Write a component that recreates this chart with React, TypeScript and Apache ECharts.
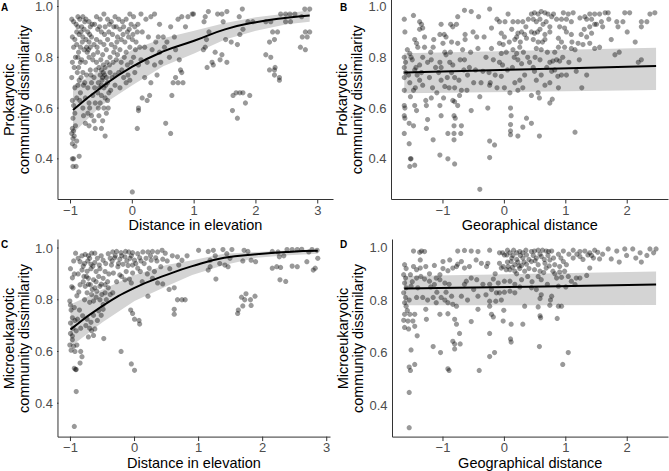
import { useEffect, useRef } from "react";
import * as echarts from "echarts";

// ---------- tick values ----------
const elevTicks = [-1, 0, 1, 2, 3];
const geoTicks = [-1, 0, 1, 2];
const dissimTicks = [0.4, 0.6, 0.8, 1.0];

// ---------- Panel A: prokaryotic vs elevation ----------
const pointsA: number[][] = [
  [-0.98,0.95],[-0.95,0.94],[-0.97,0.88],[-0.93,0.87],[-0.95,0.84],[-0.92,0.8],[-0.97,0.78],[-0.94,0.76],[-0.98,0.72],[-0.93,0.68],
  [-0.97,0.63],[-0.95,0.61],[-0.96,0.56],[-0.97,0.52],[-0.95,0.51],[-0.98,0.5],[-0.94,0.49],[-0.96,0.48],[-0.97,0.46],[-0.93,0.45],
  [-0.97,0.4],[-0.95,0.4],[-0.96,0.37],[-0.91,0.37],[-0.86,0.41],[-0.9,0.47],[-0.92,0.53],
  [-0.88,0.96],[-0.85,0.95],[-0.8,0.96],[-0.75,0.95],[-0.7,0.94],[-0.65,0.93],[-0.88,0.92],[-0.82,0.92],[-0.78,0.91],[-0.72,0.9],
  [-0.68,0.92],[-0.86,0.89],[-0.8,0.88],[-0.75,0.87],[-0.7,0.86],[-0.66,0.88],[-0.9,0.85],[-0.84,0.84],[-0.78,0.83],[-0.73,0.82],
  [-0.68,0.84],[-0.62,0.85],[-0.88,0.8],[-0.82,0.79],[-0.76,0.78],[-0.7,0.8],[-0.64,0.79],[-0.87,0.76],[-0.8,0.74],[-0.74,0.73],
  [-0.68,0.75],[-0.62,0.72],[-0.86,0.71],[-0.79,0.69],[-0.72,0.68],[-0.66,0.7],[-0.84,0.66],[-0.76,0.64],[-0.7,0.62],[-0.64,0.65],
  [-0.8,0.6],[-0.72,0.58],[-0.66,0.57],[-0.76,0.54],[-0.62,0.55],[-0.7,0.53],
  [-0.58,0.96],[-0.52,0.95],[-0.46,0.97],[-0.4,0.95],[-0.34,0.94],[-0.56,0.91],[-0.5,0.9],[-0.44,0.92],[-0.38,0.9],[-0.32,0.89],
  [-0.58,0.87],[-0.52,0.86],[-0.46,0.85],[-0.4,0.87],[-0.34,0.85],[-0.56,0.82],[-0.48,0.81],[-0.42,0.83],[-0.36,0.8],[-0.3,0.82],
  [-0.58,0.78],[-0.54,0.76],[-0.5,0.75],[-0.47,0.74],[-0.44,0.76],[-0.52,0.73],[-0.48,0.72],[-0.45,0.73],[-0.42,0.72],[-0.55,0.7],
  [-0.5,0.69],[-0.46,0.68],[-0.4,0.7],[-0.36,0.74],[-0.56,0.66],[-0.5,0.65],[-0.44,0.64],[-0.38,0.66],[-0.52,0.62],[-0.46,0.6],
  [-0.4,0.63],[-0.54,0.57],[-0.48,0.55],[-0.42,0.58],[-0.5,0.52],[-0.44,0.49],
  [-0.28,0.96],[-0.22,0.95],[-0.16,0.94],[-0.1,0.95],[-0.04,0.97],[0.02,0.96],[-0.26,0.92],[-0.2,0.91],[-0.14,0.92],[-0.08,0.9],
  [-0.02,0.93],[0.04,0.92],[0.08,0.9],[-0.24,0.88],[-0.18,0.87],[-0.12,0.86],[-0.06,0.88],[0.0,0.87],[0.06,0.86],[-0.28,0.84],
  [-0.2,0.83],[-0.1,0.82],[-0.04,0.84],[-0.26,0.79],[-0.18,0.78],[-0.08,0.77],[0.02,0.8],[-0.22,0.74],[-0.14,0.72],[-0.04,0.71],
  [0.04,0.74],[-0.28,0.69],[-0.2,0.68],[-0.1,0.7],[0.0,0.27],[0.1,0.6],[0.1,0.59],[0.08,0.52],[0.16,0.64],[0.24,0.63],[0.28,0.65],
  [0.14,0.97],[0.22,0.95],[0.3,0.96],[0.36,0.97],[0.44,0.93],[0.16,0.9],[0.26,0.88],[0.38,0.86],[0.5,0.88],[0.2,0.84],
  [0.32,0.83],[0.44,0.82],[0.56,0.86],[0.14,0.79],[0.24,0.78],[0.36,0.77],[0.46,0.78],[0.6,0.8],[0.7,0.83],[0.54,0.54],
  [0.62,0.5],[0.64,0.65],[0.66,0.7],[0.7,0.72],[0.74,0.7],[0.78,0.75],[0.8,0.74],[0.82,0.7],[0.86,0.92],[0.9,0.96],[0.97,0.97],
  [0.74,0.95],[0.8,0.96],
  [0.99,0.97],[1.18,0.96],[1.23,0.98],[1.16,0.94],[1.38,0.97],[1.45,0.97],[1.53,0.98],[1.73,0.96],[1.78,0.99],[1.47,0.94],
  [1.24,0.9],[1.2,0.87],[1.18,0.84],[1.15,0.83],[1.34,0.82],[1.45,0.81],[1.42,0.79],[1.53,0.78],[1.29,0.78],[1.21,0.76],
  [1.31,0.77],[1.51,0.87],[1.6,0.86],[1.7,0.85],[1.74,0.89],[1.79,0.91],[1.87,0.94],[1.95,0.94],[2.16,0.94],[2.24,0.94],
  [2.27,0.9],[2.35,0.9],[2.22,0.86],[2.3,0.87],[2.16,0.81],[2.24,0.8],[2.22,0.75],[2.3,0.75],[2.31,0.76],[2.3,0.73],
  [2.38,0.72],[2.38,0.71],[2.4,0.97],[2.48,0.97],[2.55,0.97],[2.63,0.97],[2.48,0.94],[2.56,0.94],[2.79,0.99],[2.87,0.99],
  [2.74,0.96],[2.8,0.9],[2.87,0.9],[2.75,0.88],[2.83,0.88],[2.72,0.84],[2.8,0.83],[1.63,0.65],[1.68,0.66],[1.74,0.66],
  [1.79,0.66],[1.9,0.65],[1.83,0.62],[1.62,0.59],[1.7,0.56],
  [-0.91,0.93],[-0.83,0.9],[-0.77,0.94],[-0.69,0.89],[-0.61,0.93],[-0.87,0.82],[-0.81,0.86],[-0.71,0.83],[-0.63,0.81],[-0.59,0.75],
  [-0.89,0.74],[-0.83,0.72],[-0.77,0.7],[-0.67,0.73],[-0.61,0.68],[-0.85,0.63],[-0.79,0.57],[-0.69,0.6],[-0.6,0.62],[-0.53,0.68],
  [-0.49,0.71],[-0.43,0.69],[-0.47,0.77],[-0.51,0.79],[-0.41,0.78],[-0.37,0.77],[-0.33,0.72],[-0.31,0.78],[-0.37,0.93],[-0.45,0.89],
  [-0.53,0.92],[-0.3,0.92],[-0.25,0.86],[-0.15,0.89],[-0.05,0.91],[0.01,0.89],[-0.13,0.8],[-0.02,0.78],[0.05,0.83],[-0.17,0.75],
  [-0.07,0.73],[0.1,0.77],[0.12,0.84],[0.09,0.93],[-0.93,0.58],[-0.9,0.64],[-0.88,0.69],[-0.84,0.78],[-0.9,0.9],[-0.74,0.84],
  [-0.57,0.84],[-0.55,0.6],[-0.6,0.52],[-0.39,0.6],[-0.35,0.67],[-0.28,0.73],[-0.24,0.81],[0.2,0.72],[0.3,0.7],[0.4,0.73],
  [0.42,0.88],[0.52,0.84],[0.62,0.92],[0.68,0.88],[0.76,0.79]
];
const fitXA = [-0.96, -0.5, 0, 0.5, 1, 1.5, 2, 2.5, 2.87];
const fitYA = [0.592, 0.682, 0.763, 0.823, 0.865, 0.91, 0.938, 0.956, 0.965];
const bandLoA = [0.5, 0.61, 0.69, 0.765, 0.815, 0.87, 0.905, 0.93, 0.94];
const bandHiA = [0.69, 0.75, 0.83, 0.875, 0.905, 0.935, 0.958, 0.972, 0.985];

// ---------- Panel B: prokaryotic vs geographical distance ----------
const pointsB: number[][] = [
  [-1.63,0.95],[-1.62,0.9],[-1.48,0.965],[-1.63,0.8],[-1.61,0.78],[-1.63,0.76],[-1.61,0.74],[-1.63,0.72],[-1.54,0.7],[-1.63,0.67],
  [-1.48,0.67],[-1.45,0.68],[-1.53,0.645],[-1.63,0.61],[-1.62,0.6],[-1.63,0.57],[-1.62,0.56],[-1.46,0.61],[-1.43,0.59],[-1.55,0.54],
  [-1.48,0.53],[-1.63,0.5],[-1.55,0.46],[-1.53,0.4],[-1.52,0.4],[-1.54,0.37],[-1.46,0.375],
  [-1.38,0.94],[-1.35,0.93],[-1.33,0.915],[-1.38,0.91],[-1.3,0.88],[-1.46,0.87],[-1.43,0.855],[-1.41,0.84],[-1.3,0.84],[-1.54,0.815],
  [-1.52,0.8],[-1.33,0.8],[-1.38,0.77],[-1.46,0.75],[-1.42,0.73],[-1.38,0.71],[-1.33,0.69],[-1.28,0.63],[-1.27,0.61],[-1.25,0.555],
  [-1.27,0.52],[-1.16,0.475],[-1.19,0.64],[-1.17,0.68],[-1.22,0.72],[-1.19,0.79],[-1.15,0.87],[-1.16,0.84],
  [-1.03,0.93],[-1.05,0.89],[-1.0,0.855],[-0.97,0.82],[-1.05,0.78],[-1.03,0.76],[-1.07,0.74],[-1.03,0.71],[-0.97,0.685],[-1.05,0.61],
  [-1.03,0.57],[-1.05,0.415],[-0.92,0.4],[-0.81,0.38],[-0.92,0.5],[-0.82,0.53],[-0.82,0.5],[-0.71,0.5],[-0.7,0.53],[-0.82,0.57],
  [-0.8,0.56],[-0.82,0.475],[-0.875,0.93],[-0.84,0.92],[-0.78,0.93],[-0.98,0.89],[-0.95,0.88],[-0.86,0.86],[-0.76,0.855],[-0.95,0.81],
  [-0.89,0.78],[-0.84,0.77],[-0.86,0.74],[-0.81,0.72],[-0.9,0.68],[-0.81,0.68],[-0.84,0.63],[-0.81,0.625],[-0.73,0.65],[-0.76,0.61],
  [-0.7,0.67],[-0.64,0.87],[-0.64,0.89],[-0.65,0.79],[-0.76,0.96],[-0.65,0.985],[-0.54,0.98],[-0.74,0.71],[-0.66,0.75],[-0.54,0.59],
  [-0.51,0.9],[-0.45,0.88],[-0.42,0.96],[-0.57,0.76],[-0.47,0.75],[-0.61,0.67],
  [-0.4,0.28],[-0.24,0.99],[-0.21,0.915],[-0.21,0.835],[-0.25,0.74],[-0.23,0.7],[-0.24,0.69],[-0.27,0.6],[-0.24,0.47],[-0.16,0.455],
  [-0.24,0.405],[-0.4,0.645],[-0.35,0.745],[-0.43,0.835],[-0.18,0.79],[-0.08,0.94],[0.01,0.94],[-0.05,0.895],[0.0,0.88],[-0.08,0.855],
  [-0.02,0.85],[-0.05,0.815],[0.03,0.82],[-0.08,0.78],[-0.05,0.725],[0.0,0.68],[0.09,0.66],[0.1,0.6],[0.11,0.57],[0.1,0.535],
  [0.1,0.51],[0.1,0.495],[0.22,0.94],[0.14,0.94],[0.17,0.87],[0.2,0.88],[0.22,0.895],[0.14,0.83],[0.2,0.815],[0.25,0.84],
  [0.28,0.9],[0.33,0.89],[0.36,0.875],[0.3,0.94],[0.39,0.95],[0.22,0.79],[0.28,0.775],[0.25,0.71],[0.17,0.7],[0.22,0.67],
  [0.3,0.68],[0.33,0.73],[0.36,0.56],[0.3,0.525],[0.22,0.49],
  [0.44,0.97],[0.49,0.975],[0.55,0.97],[0.6,0.98],[0.66,0.975],[0.71,0.97],[0.77,0.96],[0.47,0.95],[0.52,0.94],[0.58,0.95],
  [0.63,0.93],[0.68,0.94],[0.74,0.92],[0.44,0.9],[0.49,0.895],[0.58,0.91],[0.66,0.89],[0.74,0.9],[0.47,0.87],[0.55,0.86],
  [0.66,0.87],[0.52,0.835],[0.6,0.83],[0.96,0.975],[1.04,0.97],[1.12,0.975],[0.93,0.95],[1.01,0.95],[1.09,0.94],[0.9,0.92],
  [0.98,0.915],[1.01,0.9],[1.09,0.89],[0.88,0.875],[0.93,0.86],[0.98,0.84],[0.88,0.84],[1.23,0.955],[1.31,0.96],[1.39,0.97],
  [1.47,0.97],[1.55,0.97],[1.64,0.975],[1.69,0.975],[1.34,0.95],[1.42,0.95],[1.5,0.93],[1.58,0.94],[1.39,0.92],[1.47,0.93],
  [1.25,0.89],[1.34,0.88],[1.42,0.895],[1.2,0.855],[1.28,0.85],[1.39,0.855],[1.47,0.835],[1.55,0.84],[1.09,0.835],[1.15,0.83],
  [1.83,0.94],[1.85,0.92],[1.74,0.87],[1.96,0.975],[2.04,0.975],[1.93,0.94],[2.13,0.86],[2.23,0.94],[2.32,0.94],[2.23,0.92],
  [2.37,0.97],[2.45,0.975],[1.8,0.81],[1.87,0.82],[2.18,0.78],[2.23,0.79],
  [0.41,0.78],[0.47,0.76],[0.58,0.79],[0.49,0.745],[0.52,0.71],[0.6,0.73],[0.66,0.69],[0.74,0.78],[0.79,0.785],[0.85,0.79],
  [0.9,0.785],[0.77,0.745],[0.82,0.75],[0.87,0.725],[0.93,0.73],[1.01,0.73],[0.74,0.7],[0.88,0.68],[1.17,0.745],[1.26,0.68],
  [1.34,0.73],[0.44,0.65],[0.55,0.66],[0.57,0.64],[0.74,0.62],[0.78,0.635],[0.44,0.54],[0.57,0.49],[1.15,0.505],
  [-1.58,0.83],[-1.5,0.79],[-1.56,0.73],[-1.44,0.76],[-1.35,0.74],[-1.25,0.78],[-1.2,0.82],[-1.12,0.76],[-1.1,0.66],[-0.99,0.64],
  [-0.93,0.72],[-0.88,0.82],[-0.72,0.79],[-0.68,0.83],[-0.6,0.73],[-0.55,0.82],[-0.5,0.7],[-0.38,0.7],[-0.33,0.88],[-0.3,0.8],
  [-0.15,0.73],[-0.12,0.68],[-0.03,0.77],[0.05,0.75],[0.08,0.86],[0.12,0.91],[0.16,0.8],[0.26,0.86],[0.31,0.82],[0.35,0.92],
  [0.38,0.8],[0.13,0.76],[0.06,0.97],[-0.12,0.95],[0.54,0.9],[0.62,0.86],[0.7,0.82],[0.82,0.82],[0.95,0.8],[1.05,0.78],
  [1.1,0.86],[1.3,0.91],[1.6,0.92],[1.7,0.95],[2.0,0.9],[0.8,0.97],[0.85,0.95],[0.5,0.8],[0.69,0.76],[1.22,0.79]
];
const fitXB = [-1.63, 0.42, 2.47];
const fitYB = [0.74, 0.753, 0.766];
const bandLoB = [0.658, 0.664, 0.671];
const bandHiB = [0.816, 0.827, 0.838];

// ---------- Panel C: microeukaryotic vs elevation ----------
const pointsC: number[][] = [
  [-1.01,0.795],[-1.0,0.78],[-0.99,0.76],[-0.97,0.73],[-1.0,0.71],[-0.96,0.69],[-1.0,0.67],[-0.97,0.645],[-1.01,0.625],[-0.99,0.605],
  [-0.95,0.62],[-0.9,0.625],[-0.94,0.535],[-0.91,0.53],[-0.92,0.53],[-0.91,0.445],[-0.94,0.31],[-0.84,0.6],[-0.82,0.58],[-0.85,0.555],
  [-0.97,0.885],[-1.0,0.92],[-0.95,0.95],[-0.92,0.98],[-0.96,0.845],[-0.9,0.815],[-0.94,0.77],[-0.89,0.725],[-0.91,0.68],
  [-0.82,0.97],[-0.77,0.975],[-0.72,0.97],[-0.67,0.98],[-0.62,0.98],[-0.85,0.947],[-0.78,0.94],[-0.73,0.95],[-0.68,0.937],[-0.62,0.944],
  [-0.55,0.934],[-0.49,0.953],[-0.82,0.915],[-0.74,0.91],[-0.68,0.92],[-0.6,0.909],[-0.54,0.92],[-0.46,0.909],[-0.79,0.89],[-0.72,0.883],
  [-0.64,0.877],[-0.56,0.89],[-0.49,0.883],[-0.85,0.858],[-0.77,0.852],[-0.69,0.858],[-0.62,0.846],[-0.54,0.852],[-0.46,0.858],[-0.74,0.827],
  [-0.67,0.82],[-0.59,0.833],[-0.51,0.82],[-0.46,0.827],[-0.64,0.795],[-0.54,0.8],[-0.49,0.782],[-0.56,0.757],[-0.49,0.763],[-0.81,0.738],
  [-0.74,0.725],[-0.68,0.713],[-0.7,0.69],[-0.67,0.68],[-0.62,0.687],[-0.72,0.656],[-0.64,0.662],[-0.48,0.65],
  [-0.41,0.978],[-0.34,0.985],[-0.28,0.987],[-0.21,0.982],[-0.14,0.987],[-0.09,0.985],[-0.03,0.982],[0.05,0.978],[0.13,0.985],[-0.38,0.96],
  [-0.31,0.962],[-0.23,0.957],[-0.15,0.966],[-0.07,0.96],[0.0,0.953],[0.08,0.962],[-0.36,0.934],[-0.26,0.928],[-0.18,0.937],[-0.1,0.932],
  [-0.03,0.934],[0.05,0.922],[-0.33,0.903],[-0.23,0.896],[-0.13,0.909],[-0.03,0.903],[0.09,0.909],[-0.28,0.87],[-0.15,0.877],[-0.05,0.865],
  [-0.41,0.846],[-0.34,0.827],[-0.06,0.76],[-0.03,0.747],[0.0,0.725],[0.07,0.72],[0.08,0.706],[-0.21,0.6],[-0.05,0.552],[0.0,0.527],
  [0.21,0.985],[0.28,0.987],[0.36,0.985],[0.43,0.991],[0.18,0.96],[0.26,0.953],[0.33,0.962],[0.44,0.957],[0.51,0.95],[0.23,0.922],
  [0.31,0.909],[0.41,0.928],[0.28,0.883],[0.36,0.865],[0.44,0.861],[0.21,0.814],[0.54,0.84],[0.62,0.846],[0.59,0.97],[0.67,0.966],
  [0.74,0.953],[0.82,0.97],[0.69,0.934],[0.67,0.8],[0.74,0.8],[0.79,0.8],[0.62,0.763],[0.62,0.744],
  [1.0,0.991],[1.15,0.987],[1.23,0.991],[1.38,0.994],[1.52,0.994],[1.71,0.991],[1.77,0.987],[1.18,0.953],[1.26,0.97],[1.44,0.978],
  [1.49,0.96],[1.18,0.928],[1.15,0.915],[1.33,0.94],[1.41,0.934],[1.46,0.928],[1.69,0.95],[1.82,0.953],[1.89,0.947],[1.27,0.88],
  [2.15,0.987],[2.24,0.985],[2.38,0.994],[2.46,0.994],[2.54,0.994],[2.61,0.995],[2.26,0.966],[2.33,0.97],[2.15,0.922],[2.22,0.928],
  [2.28,0.925],[2.46,0.93],[2.54,0.928],[2.27,0.877],[2.36,0.871],[2.69,0.947],[2.77,0.994],[2.85,0.991],[2.79,0.915],[2.82,0.922],
  [2.86,0.96],[2.72,0.985],[1.67,0.81],[1.74,0.823],[1.88,0.814],[1.72,0.8],[1.81,0.8],[1.69,0.776],[1.82,0.778],[1.62,0.76],[1.61,0.747],
  [-0.88,0.9],[-0.8,0.93],[-0.75,0.89],[-0.7,0.96],[-0.65,0.93],[-0.58,0.96],[-0.52,0.97],[-0.45,0.94],[-0.4,0.9],[-0.35,0.95],
  [-0.3,0.97],[-0.25,0.94],[-0.2,0.97],[-0.12,0.95],[-0.05,0.97],[0.02,0.94],[0.1,0.95],[-0.42,0.87],[-0.44,0.8],[-0.38,0.82],
  [-0.52,0.86],[-0.6,0.87],[-0.66,0.84],[-0.72,0.86],[-0.8,0.87],[-0.87,0.83],[-0.78,0.8],[-0.7,0.79],[-0.6,0.81],[-0.52,0.74],
  [-0.58,0.72],[-0.64,0.74],[-0.76,0.7],[-0.84,0.69],[-0.86,0.76],[-0.93,0.72],[-0.97,0.66],[-0.93,0.6],[-0.98,0.85],[-0.94,0.9],
  [-0.88,0.96],[-0.2,0.89],[-0.08,0.88],[0.15,0.94],[0.25,0.97],[0.35,0.95],[0.48,0.98],[0.55,0.92],[0.2,0.9],[0.12,0.87]
];
const fitXC = [-1.0, -0.5, 0, 0.5, 0.9, 1.4, 1.9, 2.4, 2.86];
const fitYC = [0.685, 0.776, 0.846, 0.896, 0.93, 0.962, 0.976, 0.985, 0.989];
const bandLoC = [0.618, 0.713, 0.795, 0.852, 0.896, 0.934, 0.962, 0.972, 0.978];
const bandHiC = [0.782, 0.84, 0.896, 0.934, 0.953, 0.978, 0.985, 0.99, 0.993];

// ---------- Panel D: microeukaryotic vs geographical distance ----------
const pointsD: number[][] = [
  [-1.625,0.935],[-1.6,0.92],[-1.64,0.897],[-1.61,0.884],[-1.625,0.865],[-1.6,0.847],[-1.64,0.828],[-1.61,0.81],[-1.625,0.79],[-1.6,0.777],
  [-1.625,0.746],[-1.54,0.746],[-1.46,0.746],[-1.64,0.723],[-1.57,0.72],[-1.49,0.72],[-1.625,0.696],[-1.56,0.69],[-1.46,0.7],[-1.42,0.664],
  [-1.52,0.61],[-1.55,0.545],[-1.53,0.532],[-1.46,0.555],[-1.55,0.448],[-1.55,0.314],[-1.48,0.987],[-1.38,0.982],[-1.35,0.987],[-1.3,0.985],
  [-1.37,0.953],[-1.48,0.928],[-1.43,0.916],[-1.37,0.922],[-1.53,0.897],[-1.43,0.884],[-1.36,0.89],[-1.52,0.853],[-1.41,0.847],[-1.43,0.81],
  [-1.33,0.81],[-1.28,0.765],[-1.27,0.727],[-1.16,0.623],[-1.04,0.6],[-1.28,0.928],[-1.14,0.932],[-1.22,0.9],[-1.11,0.884],[-1.05,0.897],
  [-1.0,0.947],[-0.89,0.953],[-1.0,0.92],[-0.92,0.912],[-0.84,0.922],[-0.78,0.928],[-0.76,0.937],[-1.22,0.872],[-1.14,0.859],[-1.05,0.878],
  [-0.97,0.865],[-1.16,0.81],[-1.11,0.79],[-1.03,0.81],[-0.97,0.8],[-0.92,0.79],[-0.86,0.815],[-0.84,0.784],[-0.78,0.777],[-0.7,0.815],
  [-1.05,0.746],[-0.92,0.748],[-0.81,0.727],[-0.78,0.708],[-0.73,0.673],[-0.84,0.643],[-0.81,0.633],[-0.72,0.633],[-0.81,0.614],[-0.92,0.538],
  [-0.9,0.532],[-0.76,0.987],[-0.65,0.989],[-0.54,0.987],[-0.43,0.985],[-0.7,0.947],[-0.65,0.922],[-0.57,0.928],[-0.46,0.953],[-0.375,0.94],
  [-0.54,0.718],[-0.43,0.765],[-0.43,0.815],[-0.62,0.872],[-0.54,0.884],[-0.45,0.878],[-0.41,0.532],[-0.24,0.99],[-0.24,0.86],[-0.21,0.84],
  [-0.24,0.796],[-0.24,0.777],[-0.21,0.746],[-0.18,0.736],[-0.24,0.673],[-0.24,0.585],[-0.16,0.6],[-0.29,0.928],[-0.27,0.94],[-0.08,0.98],
  [-0.03,0.98],[0.0,0.972],[0.04,0.972],[-0.08,0.94],[-0.02,0.928],[0.06,0.928],[-0.05,0.922],[0.03,0.916],[-0.1,0.865],[0.0,0.872],
  [-0.13,0.828],[-0.14,0.796],[-0.05,0.8],[-0.01,0.761],[-0.02,0.72],[-0.08,0.828],[0.09,0.98],[0.14,0.97],[0.2,0.98],[0.26,0.97],
  [0.3,0.98],[0.36,0.972],[0.11,0.947],[0.17,0.935],[0.22,0.945],[0.28,0.932],[0.36,0.937],[0.09,0.916],[0.17,0.91],[0.25,0.92],
  [0.33,0.91],[0.09,0.872],[0.17,0.86],[0.28,0.878],[0.09,0.834],[0.17,0.828],[0.11,0.708],[0.1,0.652],[0.11,0.64],[0.33,0.777],[0.3,0.708],
  [0.44,0.985],[0.49,0.987],[0.55,0.99],[0.62,0.99],[0.68,0.987],[0.77,0.987],[0.47,0.97],[0.52,0.96],[0.6,0.966],[0.71,0.97],
  [0.44,0.947],[0.55,0.935],[0.66,0.94],[0.74,0.953],[0.82,0.935],[0.9,0.928],[0.96,0.947],[1.01,0.935],[0.49,0.916],[0.58,0.91],
  [0.68,0.922],[0.79,0.91],[0.9,0.907],[0.98,0.91],[1.04,0.89],[0.55,0.89],[0.6,0.878],[0.85,0.884],[0.93,0.887],[1.09,0.872],
  [1.17,0.884],[1.23,0.884],[1.34,0.894],[1.15,0.859],[0.96,0.987],[1.12,0.99],[1.23,0.985],[1.31,0.987],[1.39,0.98],[1.47,0.99],
  [1.52,0.982],[1.36,0.972],[1.45,0.96],[1.55,0.957],[1.12,0.96],[1.23,0.966],[1.39,0.922],[1.69,0.995],[1.83,0.987],[1.96,0.995],
  [2.09,0.995],[2.21,0.98],[2.37,0.995],[2.47,0.995],[1.74,0.957],[1.87,0.945],[1.99,0.97],[2.14,0.96],[2.23,0.945],[2.32,0.97],
  [2.43,0.98],[0.44,0.847],[0.52,0.84],[0.6,0.82],[0.58,0.806],[0.77,0.815],[0.75,0.8],[0.88,0.853],[0.55,0.774],[0.74,0.78],
  [0.88,0.777],[0.93,0.777],[0.58,0.74],[0.59,0.733],[0.86,0.73],[0.57,0.623],[1.04,0.6],[0.95,0.555],
  [0.05,0.99],[0.15,0.99],[0.25,0.985],[0.35,0.99],[0.12,0.96],[0.2,0.955],[0.3,0.96],[0.4,0.955],[0.05,0.945],[0.24,0.93],
  [0.32,0.945],[0.4,0.92],[0.13,0.925],[0.2,0.9],[0.38,0.89],[0.5,0.95],[0.58,0.975],[0.65,0.955],[0.72,0.985],[0.8,0.96],
  [0.88,0.975],[0.92,0.96],[1.05,0.975],[1.18,0.975],[1.28,0.955],[1.42,0.97],[1.6,0.975],[0.64,0.905],[0.73,0.93],[0.82,0.9],
  [-0.15,0.9],[-0.35,0.86],[-0.5,0.84],[-0.6,0.8],[-0.65,0.86],[-0.9,0.86],[-1.2,0.85],[-1.3,0.88],[-1.5,0.87],[-1.55,0.8],
  [-1.58,0.76],[-1.25,0.8],[-1.1,0.83],[-0.95,0.83],[-0.3,0.82],[-0.18,0.88],[0.0,0.83],[0.25,0.85],[0.45,0.87],[0.7,0.86],[1.0,0.85]
];
const fitXD = [-1.63, 0.42, 2.47];
const fitYD = [0.844, 0.851, 0.859];
const bandLoD = [0.78, 0.78, 0.781];
const bandHiD = [0.892, 0.9, 0.909];

const FONT = "'Liberation Sans', Arial, Helvetica, sans-serif";
const AXIS_COLOR = "#333333";
const BAND_COLOR = "#d4d4d4";
const TICK_PX = 3.5;
const fmtX = (v: number) => (v < 0 ? "\u2212" + Math.abs(v) : String(v));
const fmtY = (v: number) => v.toFixed(1);

const panels = [
  {
    grid: { left: 53.5, top: 0, width: 279.5, height: 199.5 },
    xMin: -1.203, xMax: 3.247, yMin: 0.24, yMax: 1.025,
    xTicks: elevTicks, xName: "Distance in elevation",
    yName: "Prokaryotic\ncommunity dissimilarity",
    points: pointsA, fitX: fitXA, fitY: fitYA, lo: bandLoA, hi: bandHiA, smooth: true,
    letter: "A", lx: 1, ly: 2,
  },
  {
    grid: { left: 391.5, top: 0, width: 276.5, height: 199.5 },
    xMin: -1.838, xMax: 2.664, yMin: 0.24, yMax: 1.025,
    xTicks: geoTicks, xName: "Georaphical distance",
    yName: "Prokaryotic\ncommunity dissimilarity",
    points: pointsB, fitX: fitXB, fitY: fitYB, lo: bandLoB, hi: bandHiB, smooth: false,
    letter: "B", lx: 340, ly: 2,
  },
  {
    grid: { left: 53.5, top: 240, width: 276.5, height: 198.5 },
    xMin: -1.195, xMax: 3.051, yMin: 0.269, yMax: 1.031,
    xTicks: elevTicks, xName: "Distance in elevation",
    yName: "Microeukaryotic\ncommunity dissimilarity",
    points: pointsC, fitX: fitXC, fitY: fitYC, lo: bandLoC, hi: bandHiC, smooth: true,
    letter: "C", lx: 1, ly: 239,
  },
  {
    grid: { left: 392.5, top: 240, width: 275.5, height: 199.5 },
    xMin: -1.822, xMax: 2.664, yMin: 0.278, yMax: 1.029,
    xTicks: geoTicks, xName: "Geographical distance",
    yName: "Microeukaryotic\ncommunity dissimilarity",
    points: pointsD, fitX: fitXD, fitY: fitYD, lo: bandLoD, hi: bandHiD, smooth: false,
    letter: "D", lx: 340, ly: 239,
  },
];

const segment = (i: number, data: number[][]) => ({
  type: "line",
  xAxisIndex: i,
  yAxisIndex: i,
  silent: true,
  clip: false,
  symbol: "none",
  z: 10,
  data,
  lineStyle: { color: AXIS_COLOR, width: 1, cap: "square" },
});

export default function App() {
  const ref = useRef<HTMLDivElement>(null);
  useEffect(() => {
    if (!ref.current) return;
    const chart = echarts.init(ref.current, null, { renderer: "svg" });
    const series: any[] = [];
    panels.forEach((p, i) => {
      series.push({
        type: "custom", xAxisIndex: i, yAxisIndex: i, silent: true, clip: false, z: 1,
        data: [[p.fitX[0], p.fitY[0]]],
        renderItem: (_params: any, api: any) => {
          const upper = p.fitX.map((x, j) => api.coord([x, p.hi[j]]));
          const lower = p.fitX.map((x, j) => api.coord([x, p.lo[j]])).reverse();
          return {
            type: "polygon",
            shape: { points: upper.concat(lower) },
            style: { fill: BAND_COLOR },
          };
        },
      });
      series.push({
        type: "scatter", xAxisIndex: i, yAxisIndex: i, data: p.points,
        symbolSize: 5.2, itemStyle: { color: "rgba(0,0,0,0.5)" }, z: 3,
      });
      series.push({
        type: "line", xAxisIndex: i, yAxisIndex: i, silent: true,
        data: p.fitX.map((x, j) => [x, p.fitY[j]]),
        symbol: "none", smooth: p.smooth, lineStyle: { color: "#000", width: 2 }, z: 4,
      });
      // axis lines (L-shape) and outward ticks, as line series on the panel's own axes
      const dy = (TICK_PX * (p.yMax - p.yMin)) / p.grid.height;
      const dx = (TICK_PX * (p.xMax - p.xMin)) / p.grid.width;
      series.push(segment(i, [[p.xMax, p.yMin], [p.xMin, p.yMin], [p.xMin, p.yMax]]));
      p.xTicks.forEach((t) => series.push(segment(i, [[t, p.yMin], [t, p.yMin - dy]])));
      dissimTicks.forEach((t) => series.push(segment(i, [[p.xMin, t], [p.xMin - dx, t]])));
    });

    const option: any = {
      animation: false,
      backgroundColor: "#ffffff",
      grid: panels.map((p) => ({ ...p.grid })),
      xAxis: panels.map((p, i) => ({
        type: "value",
        gridIndex: i,
        min: p.xMin,
        max: p.xMax,
        name: p.xName,
        nameLocation: "middle",
        nameGap: 15,
        nameTextStyle: { color: "#000", fontSize: 14.5, fontFamily: FONT, verticalAlign: "top" },
        axisLine: { show: false, onZero: false },
        axisTick: { show: false },
        axisLabel: { customValues: p.xTicks, formatter: fmtX, color: "#4d4d4d", fontSize: 13, fontFamily: FONT, margin: 4 },
        splitLine: { show: false },
      })),
      yAxis: panels.map((p, i) => ({
        type: "value",
        gridIndex: i,
        min: p.yMin,
        max: p.yMax,
        name: p.yName,
        nameLocation: "middle",
        nameRotate: 90,
        nameGap: 21,
        nameTextStyle: { color: "#000", fontSize: 14.5, fontFamily: FONT, lineHeight: 15, align: "center" },
        axisLine: { show: false, onZero: false },
        axisTick: { show: false },
        axisLabel: { customValues: dissimTicks, formatter: fmtY, color: "#4d4d4d", fontSize: 13, fontFamily: FONT, margin: 5 },
        splitLine: { show: false },
      })),
      series,
      graphic: panels.map((p) => ({
        type: "text", left: p.lx, top: p.ly, z: 100,
        style: { text: p.letter, fontSize: 10, fontWeight: "bold", fontFamily: FONT, fill: "#000" },
      })),
    };
    chart.setOption(option);
    return () => chart.dispose();
  }, []);
  return (
    <div
      ref={ref}
      style={{ position: "fixed", left: 0, top: 0, width: 669, height: 471, background: "#fff" }}
    />
  );
}
